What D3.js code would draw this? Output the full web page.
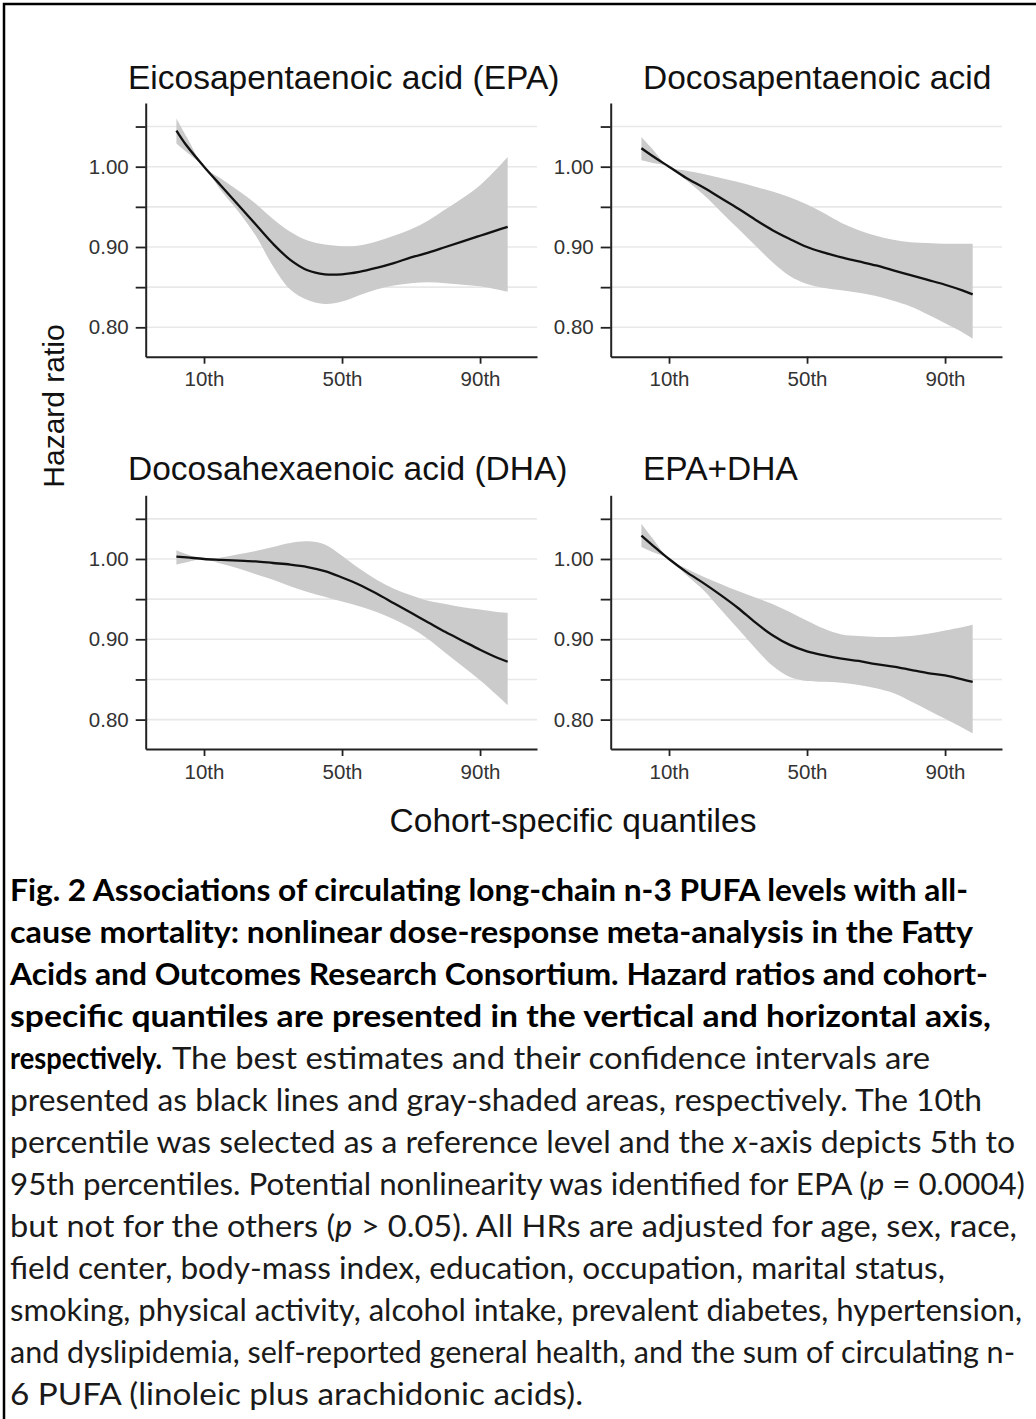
<!DOCTYPE html>
<html><head><meta charset="utf-8">
<script src="https://cdn.jsdelivr.net/npm/d3@7"></script>
<style>body{margin:0;background:#fff;} svg{display:block;}</style>
</head><body>
<script>
// ---------- data ----------
const pct = [2,5,10,15,20,25,30,35,40,45,50,55,60,65,70,75,80,85,90,95,98];
const panelTitles = ["Eicosapentaenoic acid (EPA)","Docosapentaenoic acid","Docosahexaenoic acid (DHA)","EPA+DHA"];

const epaHR = [1.045,1.026,1.000,0.976,0.952,0.928,0.904,0.884,0.871,0.866,0.866,0.869,0.874,0.880,0.887,0.893,0.900,0.907,0.914,0.921,0.925];
const epaHi = [1.060,1.037,1.000,0.985,0.970,0.954,0.935,0.919,0.908,0.903,0.901,0.902,0.907,0.914,0.922,0.933,0.947,0.961,0.977,0.998,1.012];
const epaLo = [1.029,1.018,1.000,0.970,0.944,0.914,0.876,0.847,0.834,0.829,0.832,0.840,0.847,0.852,0.855,0.856,0.855,0.853,0.851,0.847,0.844];

const dpaHR = [1.023,1.014,1.000,0.986,0.974,0.961,0.948,0.934,0.921,0.910,0.900,0.893,0.887,0.882,0.877,0.871,0.865,0.859,0.853,0.846,0.841];
const dpaHi = [1.037,1.023,1.000,0.995,0.991,0.986,0.981,0.975,0.969,0.962,0.953,0.942,0.930,0.921,0.914,0.909,0.906,0.905,0.904,0.904,0.904];
const dpaLo = [1.008,1.005,1.000,0.983,0.965,0.944,0.923,0.902,0.881,0.864,0.854,0.849,0.846,0.843,0.839,0.833,0.826,0.816,0.805,0.794,0.786];

const dhaHR = [1.003,1.002,1.000,0.999,0.998,0.997,0.995,0.993,0.990,0.985,0.977,0.968,0.957,0.945,0.933,0.921,0.909,0.898,0.887,0.877,0.872];
const dhaHi = [1.011,1.006,1.000,1.002,1.006,1.010,1.015,1.020,1.022,1.018,1.004,0.988,0.974,0.963,0.955,0.948,0.944,0.940,0.937,0.934,0.933];
const dhaLo = [0.993,0.996,1.000,0.994,0.988,0.981,0.974,0.966,0.959,0.953,0.947,0.941,0.934,0.925,0.914,0.900,0.883,0.866,0.849,0.830,0.818];

const bothHR = [1.029,1.018,1.000,0.984,0.970,0.955,0.939,0.921,0.905,0.893,0.885,0.880,0.876,0.873,0.869,0.866,0.862,0.858,0.855,0.850,0.847];
const bothHi = [1.044,1.027,1.000,0.988,0.978,0.969,0.960,0.952,0.944,0.934,0.923,0.913,0.906,0.904,0.903,0.903,0.904,0.907,0.911,0.915,0.918];
const bothLo = [1.015,1.009,1.000,0.980,0.961,0.937,0.913,0.889,0.867,0.853,0.848,0.847,0.846,0.843,0.839,0.833,0.823,0.812,0.801,0.790,0.783];

const seriesHR = [epaHR, dpaHR, dhaHR, bothHR];
const seriesHi = [epaHi, dpaHi, dhaHi, bothHi];
const seriesLo = [epaLo, dpaLo, dhaLo, bothLo];

const xTickValues = [10,50,90];
const xTickLabels = ["10th","50th","90th"];
const yTickValues = [0.80,0.85,0.90,0.95,1.00,1.05];
const yLabelValues = [0.80,0.90,1.00];

const yAxisTitle = "Hazard ratio";
const xAxisTitle = "Cohort-specific quantiles";

// ---------- layout ----------
const W = 1036, H = 1419;
const svg = d3.select("body").append("svg").attr("width", W).attr("height", H)
  .style("font-family", "'Liberation Sans', Arial, sans-serif");
svg.append("rect").attr("width", W).attr("height", H).attr("fill", "#fff");

// frame (left + top)
svg.append("path").attr("d", `M4,${H} L4,4 L${W},4`).attr("fill","none").attr("stroke","#000").attr("stroke-width",2.5);

const colX = [145.7, 610.7];
const rowY = [356.7, 749];
const plotW = 391.3, plotH = 253.7;
const curve = d3.curveCatmullRom.alpha(0.5);

panelTitles.forEach((title, i) => {
  const col = i % 2, row = Math.floor(i / 2);
  const ax = colX[col], by = rowY[row];
  const x = d3.scaleLinear().domain([-6.9, 106.5]).range([ax, ax + plotW]);
  const y = d3.scaleLinear().domain([0.7634, 1.0793]).range([by, by - plotH]);
  const g = svg.append("g");

  // gridlines
  g.selectAll("line.grid").data(yTickValues).join("line")
    .attr("x1", ax).attr("x2", ax + plotW)
    .attr("y1", d => y(d)).attr("y2", d => y(d))
    .attr("stroke", "#e8e8e8").attr("stroke-width", 1.6);

  const rows = pct.map((p, k) => ({p, hr: seriesHR[i][k], lo: seriesLo[i][k], hi: seriesHi[i][k]}));

  g.append("path").datum(rows)
    .attr("d", d3.area().x(d => x(d.p)).y0(d => y(d.lo)).y1(d => y(d.hi)).curve(curve))
    .attr("fill", "#cbcbcb");
  g.append("path").datum(rows)
    .attr("d", d3.line().x(d => x(d.p)).y(d => y(d.hr)).curve(curve))
    .attr("fill", "none").attr("stroke", "#111").attr("stroke-width", 2.3);

  // axes
  const yAxis = d3.axisLeft(y).tickValues(yTickValues).tickSize(10).tickSizeOuter(0).tickPadding(7)
    .tickFormat(d => yLabelValues.some(v => Math.abs(v - d) < 1e-9) ? d3.format(".2f")(d) : "");
  const ga = g.append("g").attr("transform", `translate(${ax},0)`).call(yAxis);
  const xAxis = d3.axisBottom(x).tickValues(xTickValues).tickSize(7).tickSizeOuter(0).tickPadding(8)
    .tickFormat((d, k) => xTickLabels[k]);
  const gb = g.append("g").attr("transform", `translate(0,${by})`).call(xAxis);
  [ga, gb].forEach(a => {
    a.select(".domain").attr("stroke", "#222").attr("stroke-width", 2);
    a.selectAll(".tick line").attr("stroke", "#222").attr("stroke-width", 1.8);
    a.selectAll(".tick text").attr("fill", "#333").style("font-size", "20.5px")
      .style("font-family", "'Liberation Sans', Arial, sans-serif");
  });

  // title
  const tx = col === 0 ? ax - 17.7 : ax + 32.3;
  svg.append("text").attr("x", tx).attr("y", by - 268 + (row === 0 ? 0 : -1))
    .attr("fill", "#111").style("font-size", "33.5px").text(title);
});

// axis titles
svg.append("text").attr("transform", "translate(64,406) rotate(-90)")
  .attr("text-anchor", "middle").attr("fill", "#111").style("font-size", "30px").text(yAxisTitle);
svg.append("text").attr("x", 573).attr("y", 832).attr("text-anchor", "middle")
  .attr("fill", "#111").style("font-size", "33.5px").text(xAxisTitle);

// ---------- caption ----------
const capFont = "Lato, 'Open Sans', sans-serif";
const capLines = [
  {x:10, w:958, bold:true, parts:[["Fig. 2 Associations of circulating long-chain n-3 PUFA levels with all-"]]},
  {x:10, w:963, bold:true, parts:[["cause mortality: nonlinear dose-response meta-analysis in the Fatty"]]},
  {x:10, w:978, bold:true, parts:[["Acids and Outcomes Research Consortium. Hazard ratios and cohort-"]]},
  {x:10, w:981, bold:true, parts:[["specific quantiles are presented in the vertical and horizontal axis,"]]},
  {x:10, w:152, bold:true, parts:[["respectively."]], same:true},
  {x:172, w:758, bold:false, parts:[["The best estimates and their confidence intervals are"]]},
  {x:10, w:972, parts:[["presented as black lines and gray-shaded areas, respectively. The 10th"]]},
  {x:10, w:1005, parts:[["percentile was selected as a reference level and the "],["x","i"],["-axis depicts 5th to"]]},
  {x:10, w:1015, parts:[["95th percentiles. Potential nonlinearity was identified for EPA ("],["p","i"],[" = 0.0004)"]]},
  {x:10, w:1007, parts:[["but not for the others ("],["p","i"],[" > 0.05). All HRs are adjusted for age, sex, race,"]]},
  {x:10, w:935, parts:[["field center, body-mass index, education, occupation, marital status,"]]},
  {x:10, w:1012, parts:[["smoking, physical activity, alcohol intake, prevalent diabetes, hypertension,"]]},
  {x:10, w:1005, parts:[["and dyslipidemia, self-reported general health, and the sum of circulating n-"]]},
  {x:10, w:573, parts:[["6 PUFA (linoleic plus arachidonic acids)."]]}
];
let base = 901;
capLines.forEach(l => {
  const t = svg.append("text").attr("x", l.x).attr("y", base)
    .attr("textLength", l.w).attr("lengthAdjust", "spacingAndGlyphs")
    .attr("fill", l.bold ? "#000" : "#1a1a1a")
    .style("font-family", capFont).style("font-size", "31px")
    .style("font-weight", l.bold ? 700 : 400);
  l.parts.forEach(p => {
    const s = t.append("tspan").text(p[0]);
    if (p[1] === "i") s.style("font-style", "italic");
  });
  if (!l.same) base += 42;
});
</script>
</body></html>
